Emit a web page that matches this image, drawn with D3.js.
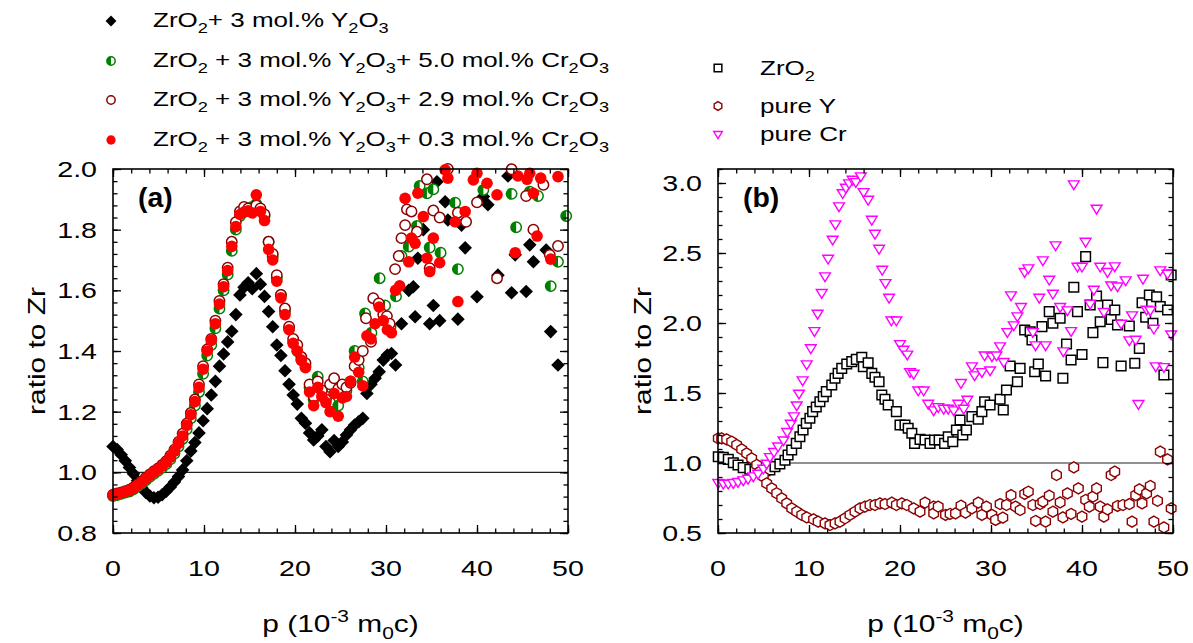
<!DOCTYPE html>
<html><head><meta charset="utf-8">
<script src="https://cdn.jsdelivr.net/npm/d3@7"></script>
<style>
body{margin:0;background:#fff}
text{font-family:"Liberation Sans",Arial,sans-serif;white-space:pre;fill:#000}
</style>
</head><body>
<svg id="chart" width="1193" height="643"></svg>
<script>
// ---------------- DATA ----------------
const xTickLabels = [0, 10, 20, 30, 40, 50];
const yTicksA = [0.8, 1.0, 1.2, 1.4, 1.6, 1.8, 2.0];
const yTicksB = [0.5, 1.0, 1.5, 2.0, 2.5, 3.0];

// Panel (a): [p, ratio]
const zrY = [[0,1.085],[0.45,1.075],[0.9,1.058],[1.35,1.038],[1.8,1.016],[2.25,0.995],[2.7,0.972],[3.15,0.95],[3.6,0.934],[4.05,0.922],[4.5,0.916],[4.95,0.918],[5.4,0.926],[5.85,0.938],[6.3,0.952],[6.75,0.968],[7.2,0.986],[7.65,1.008],[8.1,1.038],[8.55,1.07],[9.0,1.098],[9.45,1.13],[9.9,1.17],[10.35,1.21],[10.8,1.255],[11.25,1.3],[11.7,1.35],[12.15,1.39],[12.6,1.43],[13.05,1.465],[13.5,1.52],[13.95,1.585],[14.4,1.61],[14.85,1.625],[15.3,1.605],[15.75,1.655],[16.2,1.62],[16.65,1.58],[17.1,1.53],[17.55,1.48],[18.0,1.42],[18.45,1.385],[18.9,1.335],[19.35,1.29],[19.8,1.255],[20.25,1.225],[20.7,1.178],[21.15,1.162],[21.6,1.13],[22.05,1.107],[22.5,1.12],[22.95,1.14],[23.4,1.085],[23.85,1.068],[24.3,1.105],[24.75,1.085],[25.2,1.1],[25.65,1.123],[26.1,1.14],[26.55,1.156],[27.0,1.167],[27.45,1.178],[27.9,1.26],[28.35,1.29],[28.8,1.31],[29.25,1.332],[29.7,1.37],[30.15,1.387],[30.6,1.392],[31.05,1.354],[31.7,1.49],[32.5,1.6],[33.0,1.612],[33.2,1.513],[33.5,1.706],[34.1,1.8],[34.8,1.49],[35.2,1.55],[35.6,1.958],[35.9,1.5],[36.5,1.892],[36.8,1.832],[37.9,1.505],[38.3,1.815],[38.7,1.74],[40.0,1.579],[40.7,1.909],[41.2,1.882],[42.3,1.65],[43.4,1.977],[43.8,1.592],[44.2,1.717],[45.4,1.596],[45.8,1.75],[46.2,1.694],[47.6,1.733],[48.1,1.464],[48.9,1.354]];

const cr50 = [[0,0.922],[0.45,0.925],[0.9,0.929],[1.35,0.933],[1.8,0.937],[2.25,0.944],[2.7,0.953],[3.15,0.963],[3.6,0.974],[4.05,0.985],[4.5,0.995],[4.95,1.005],[5.4,1.015],[5.85,1.027],[6.3,1.043],[6.75,1.062],[7.2,1.085],[7.65,1.11],[8.1,1.142],[8.55,1.178],[9.0,1.22],[9.45,1.265],[9.9,1.325],[10.35,1.385],[10.8,1.42],[11.25,1.475],[11.7,1.54],[12.15,1.6],[12.6,1.652],[13.05,1.73],[13.5,1.8],[13.95,1.845],[14.4,1.86],[14.85,1.87],[15.3,1.875],[15.75,1.885],[16.2,1.865],[16.65,1.845],[17.1,1.76],[17.55,1.71],[18.0,1.64],[18.45,1.585],[18.9,1.53],[19.35,1.475],[19.8,1.43],[20.25,1.4],[20.7,1.37],[21.15,1.35],[21.6,1.28],[22.05,1.24],[22.5,1.315],[22.95,1.27],[23.4,1.25],[23.85,1.23],[24.3,1.29],[24.75,1.22],[25.2,1.26],[25.65,1.27],[26.1,1.3],[26.55,1.4],[27.0,1.345],[27.45,1.3],[27.7,1.524],[28.4,1.46],[29.3,1.64],[29.9,1.55],[30.5,1.48],[31.1,1.58],[31.7,1.713],[32.5,1.744],[33.4,1.812],[33.7,1.944],[34.5,1.92],[34.8,1.741],[35.2,1.933],[36.0,1.724],[37.6,1.889],[37.9,1.67],[40.7,1.931],[43.8,1.918],[44.3,1.808],[45.8,1.925],[46.7,1.911],[48.1,1.614],[48.9,1.694],[49.8,1.845]];

const cr29 = [[0,0.926],[0.45,0.93],[0.9,0.934],[1.35,0.938],[1.8,0.943],[2.25,0.95],[2.7,0.96],[3.15,0.97],[3.6,0.982],[4.05,0.993],[4.5,1.004],[4.95,1.013],[5.4,1.024],[5.85,1.037],[6.3,1.055],[6.75,1.075],[7.2,1.1],[7.65,1.127],[8.1,1.16],[8.55,1.196],[9.0,1.24],[9.45,1.29],[9.9,1.35],[10.35,1.405],[10.8,1.44],[11.25,1.5],[11.7,1.565],[12.15,1.62],[12.6,1.675],[13.05,1.76],[13.5,1.825],[13.95,1.86],[14.4,1.875],[14.85,1.87],[15.3,1.86],[15.75,1.88],[16.2,1.87],[16.65,1.85],[17.1,1.76],[17.55,1.72],[18.0,1.65],[18.45,1.585],[18.9,1.54],[19.35,1.48],[19.8,1.44],[20.25,1.42],[20.7,1.38],[21.15,1.36],[21.6,1.29],[22.05,1.25],[22.5,1.3],[22.95,1.27],[23.4,1.24],[23.85,1.29],[24.3,1.31],[24.75,1.275],[25.2,1.29],[25.65,1.28],[26.1,1.295],[26.55,1.35],[27.0,1.37],[27.45,1.4],[27.8,1.508],[28.35,1.43],[28.6,1.574],[29.2,1.557],[29.7,1.52],[30.1,1.515],[30.4,1.49],[31.0,1.67],[31.4,1.713],[31.7,1.772],[32.1,1.815],[32.3,1.867],[32.8,1.86],[33.4,1.793],[34.5,1.966],[34.8,1.673],[35.2,1.863],[35.9,1.84],[36.8,2.0],[37.9,1.856],[38.8,1.826],[40.0,1.89],[42.2,1.64],[43.8,1.999],[45.4,1.911],[46.2,1.8],[47.3,1.948],[48.0,1.717],[48.9,1.746]];

const cr03 = [[0,0.925],[0.45,0.928],[0.9,0.932],[1.35,0.936],[1.8,0.94],[2.25,0.947],[2.7,0.957],[3.15,0.967],[3.6,0.978],[4.05,0.99],[4.5,1.0],[4.95,1.01],[5.4,1.02],[5.85,1.033],[6.3,1.05],[6.75,1.07],[7.2,1.095],[7.65,1.12],[8.1,1.155],[8.55,1.19],[9.0,1.233],[9.45,1.28],[9.9,1.34],[10.35,1.4],[10.8,1.435],[11.25,1.49],[11.7,1.555],[12.15,1.612],[12.6,1.665],[13.05,1.745],[13.5,1.81],[13.95,1.85],[14.4,1.858],[14.85,1.862],[15.3,1.855],[15.75,1.915],[16.2,1.86],[16.65,1.83],[17.1,1.735],[17.55,1.7],[18.0,1.63],[18.45,1.575],[18.9,1.52],[19.35,1.47],[19.8,1.425],[20.25,1.4],[20.7,1.37],[21.15,1.345],[21.6,1.265],[22.05,1.22],[22.5,1.28],[22.95,1.25],[23.4,1.23],[23.85,1.2],[24.3,1.26],[24.75,1.185],[25.2,1.245],[25.65,1.25],[26.1,1.3],[26.55,1.38],[27.0,1.33],[27.45,1.285],[27.9,1.45],[28.35,1.44],[28.8,1.49],[29.25,1.545],[29.7,1.5],[30.15,1.47],[30.6,1.46],[31.05,1.6],[31.5,1.615],[32.1,1.903],[32.5,1.694],[32.8,1.772],[33.2,1.755],[33.5,1.92],[34.1,1.843],[34.5,1.706],[34.8,1.662],[35.2,1.772],[35.9,1.691],[36.5,1.997],[36.8,1.97],[37.6,1.826],[37.9,1.563],[38.7,1.86],[39.6,1.964],[40.0,1.986],[41.1,1.953],[42.2,1.915],[44.2,1.724],[44.5,1.977],[45.5,1.966],[45.8,1.986],[46.2,1.92],[46.6,1.779],[47.0,1.97],[48.1,1.703],[48.9,1.975]];

// Panel (b)
const zrO2 = [[0.03,1.045],[0.58,1.04],[1.13,1.026],[1.68,1.002],[2.2,0.986],[2.77,0.967],[3.5,0.955],[4.07,0.945],[4.6,0.938],[5.16,0.945],[5.7,0.95],[6.26,0.974],[6.8,0.993],[7.36,1.02],[7.7,1.057],[8.1,1.093],[8.6,1.14],[9.0,1.188],[9.35,1.236],[9.7,1.283],[10.1,1.32],[10.4,1.367],[10.8,1.4],[11.2,1.438],[11.57,1.474],[11.9,1.51],[12.5,1.557],[12.86,1.605],[13.2,1.64],[13.6,1.676],[14.15,1.707],[14.7,1.724],[15.2,1.74],[15.8,1.755],[15.97,1.688],[16.5,1.716],[16.9,1.64],[17.25,1.612],[17.7,1.58],[18.0,1.486],[18.35,1.455],[18.7,1.414],[19.6,1.367],[20.0,1.271],[20.55,1.271],[20.9,1.248],[21.3,1.212],[21.6,1.14],[22.2,1.169],[22.75,1.164],[23.3,1.14],[23.8,1.164],[24.3,1.164],[24.9,1.14],[25.3,1.188],[25.8,1.152],[26.2,1.236],[26.6,1.307],[26.9,1.2],[27.3,1.236],[27.9,1.331],[28.6,1.312],[29.0,1.367],[29.3,1.438],[29.9,1.414],[31.0,1.455],[31.35,1.379],[31.7,1.521],[32.1,1.693],[32.9,1.58],[33.2,1.676],[33.7,1.95],[34.3,1.938],[34.5,1.879],[34.8,1.652],[35.2,1.707],[35.6,1.974],[36.0,1.621],[36.4,2.081],[36.8,1.998],[37.6,2.034],[37.9,1.605],[38.3,1.85],[38.8,1.736],[39.1,2.255],[39.5,2.081],[40.0,1.775],[40.4,2.474],[40.9,2.129],[41.2,1.931],[41.6,2.193],[42.0,2.009],[42.3,1.717],[42.8,2.129],[43.2,2.026],[43.6,2.093],[43.9,1.986],[44.3,1.693],[45.2,1.979],[45.8,1.712],[46.3,1.819],[46.6,2.145],[47.0,2.041],[47.4,2.2],[47.8,1.998],[48.2,2.188],[48.6,2.117],[49.0,1.629],[49.4,2.093],[49.8,2.343]];

const pureY = [[0.03,1.176],[0.4,1.176],[0.95,1.169],[1.5,1.152],[2.05,1.129],[2.6,1.098],[3.15,1.069],[3.7,1.033],[4.25,0.986],[4.6,0.938],[4.98,0.902],[5.35,0.855],[5.9,0.819],[6.45,0.784],[7.0,0.748],[7.55,0.712],[8.1,0.676],[8.65,0.652],[9.2,0.629],[9.75,0.612],[10.5,0.598],[11.0,0.581],[11.76,0.569],[12.3,0.557],[12.86,0.569],[13.4,0.581],[13.96,0.605],[14.5,0.629],[15.05,0.652],[15.6,0.676],[16.15,0.688],[16.7,0.7],[17.25,0.7],[17.8,0.712],[18.35,0.707],[19.1,0.717],[19.6,0.7],[20.2,0.712],[20.75,0.7],[21.5,0.676],[22.2,0.652],[22.75,0.717],[23.7,0.688],[23.7,0.64],[24.2,0.688],[25.0,0.629],[25.5,0.636],[26.1,0.64],[26.7,0.695],[27.2,0.645],[27.9,0.676],[28.6,0.717],[29.0,0.629],[29.5,0.688],[30.1,0.629],[30.5,0.593],[31.0,0.707],[31.3,0.61],[31.7,0.7],[32.2,0.771],[32.7,0.688],[33.2,0.664],[33.7,0.779],[34.1,0.795],[34.6,0.7],[34.9,0.586],[35.4,0.707],[35.7,0.724],[36.0,0.581],[36.4,0.767],[36.8,0.652],[37.2,0.914],[37.6,0.719],[37.9,0.612],[38.4,0.783],[38.8,0.636],[39.1,0.969],[39.6,0.819],[40.0,0.617],[40.4,0.736],[40.8,0.688],[41.2,0.76],[41.6,0.819],[42.0,0.688],[42.4,0.617],[42.8,0.669],[43.2,0.914],[43.6,0.938],[43.9,0.693],[44.5,0.7],[45.2,0.707],[45.5,0.581],[45.9,0.771],[46.3,0.812],[46.6,0.712],[47.1,0.783],[47.5,0.836],[47.9,0.581],[48.3,0.73],[48.6,1.081],[49.0,0.54],[49.4,1.026],[49.8,0.676]];

const pureCr = [[0.03,0.86],[0.58,0.855],[1.13,0.855],[1.68,0.86],[2.2,0.867],[2.77,0.879],[3.3,0.89],[3.88,0.907],[4.4,0.926],[4.98,0.962],[5.35,0.998],[5.7,1.045],[6.15,1.081],[6.6,1.121],[7.2,1.164],[7.6,1.224],[8.0,1.283],[8.35,1.336],[8.65,1.414],[8.9,1.498],[9.3,1.593],[9.75,1.707],[10.2,1.822],[10.6,1.945],[10.95,2.069],[11.4,2.217],[11.76,2.336],[12.1,2.462],[12.6,2.598],[12.9,2.707],[13.3,2.836],[13.7,2.93],[14.05,2.969],[14.4,3.0],[14.8,3.026],[15.15,3.009],[15.7,3.05],[16.0,2.938],[16.5,2.883],[16.9,2.74],[17.25,2.64],[17.7,2.533],[18.05,2.383],[18.4,2.288],[18.8,2.183],[19.05,2.021],[19.6,2.021],[20.0,1.852],[20.4,1.812],[20.8,1.777],[21.1,1.652],[21.5,1.64],[22.0,1.521],[22.6,1.521],[23.1,1.426],[23.7,1.379],[24.2,1.402],[24.8,1.39],[25.3,1.39],[25.9,1.379],[26.4,1.426],[26.7,1.574],[27.0,1.39],[27.4,1.455],[27.9,1.693],[28.2,1.629],[29.0,1.652],[29.3,1.771],[29.9,1.664],[30.1,1.764],[30.6,1.771],[31.0,1.836],[31.4,1.724],[31.8,1.938],[32.2,2.2],[32.5,1.986],[32.9,2.05],[33.3,2.117],[33.7,2.367],[34.1,2.393],[34.6,1.938],[34.9,1.843],[35.3,2.183],[35.7,2.45],[36.0,1.843],[36.4,2.312],[36.8,2.212],[37.1,2.557],[37.6,2.117],[37.95,1.8],[38.4,2.093],[38.8,1.945],[39.1,2.993],[39.5,2.405],[40.0,2.405],[40.4,2.583],[40.9,2.14],[41.3,2.24],[41.6,2.819],[42.0,2.405],[42.4,2.081],[42.8,2.367],[43.2,2.271],[43.6,2.407],[43.9,2.264],[44.3,1.998],[44.8,2.307],[45.2,1.879],[45.5,2.057],[45.9,1.883],[46.2,1.424],[46.7,2.319],[47.1,2.098],[47.5,2.093],[47.9,1.962],[48.1,1.693],[48.6,2.379],[49.0,1.688],[49.4,2.355],[49.8,1.921]];

// ---------------- DRAWING ----------------
const svg = d3.select('#chart');
const SX = 1.3;

function rich(parent, x, y, segs, o) {
  o = Object.assign({size: 20, anchor: 'start', sx: SX, rotate: 0, weight: 'normal'}, o || {});
  const g = parent.append('g')
    .attr('transform', `translate(${x},${y})` + (o.rotate ? ` rotate(${o.rotate})` : '') + ` scale(${o.sx},1)`);
  const t = g.append('text').attr('font-size', o.size).attr('text-anchor', o.anchor).attr('font-weight', o.weight);
  let cur = 0;
  segs.forEach(s => {
    const [str, mode] = typeof s === 'string' ? [s, 'n'] : s;
    const target = mode === 'sub' ? o.size * 0.3 : (mode === 'sup' ? -o.size * 0.42 : 0);
    const ts = t.append('tspan').text(str).attr('dy', target - cur);
    if (mode !== 'n') ts.attr('font-size', o.size * 0.7);
    cur = target;
  });
  return g;
}

// marker shapes
const shapes = {
  diamond: 'M0,-6.8L6.8,0L0,6.8L-6.8,0Z',
  square: 'M-4.8,-4.8H4.8V4.8H-4.8Z',
  hexagon: (() => { const r = 5.5; return d3.range(6).map(i => { const a = (-90 + 60 * i) * Math.PI / 180; return (i ? 'L' : 'M') + (r * Math.cos(a)).toFixed(2) + ',' + (r * Math.sin(a)).toFixed(2); }).join('') + 'Z'; })(),
  triangle: 'M-5.4,-3.1L5.4,-3.1L0,5.7Z'
};

function drawMarker(g, type, x, y, scale) {
  const k = scale || 1;
  const tr = `translate(${x},${y}) scale(${k})`;
  if (type === 'diamond') {
    g.append('path').attr('d', shapes.diamond).attr('transform', tr).attr('fill', '#000');
  } else if (type === 'red') {
    g.append('circle').attr('cx', x).attr('cy', y).attr('r', 5.8 * k).attr('fill', '#ff0000');
  } else if (type === 'open') {
    g.append('circle').attr('cx', x).attr('cy', y).attr('r', 5.2 * k).attr('fill', '#fff').attr('stroke', '#8b0000').attr('stroke-width', 1.5);
  } else if (type === 'half') {
    const r = 5.2 * k;
    g.append('circle').attr('cx', x).attr('cy', y).attr('r', r).attr('fill', '#fff').attr('stroke', '#008000').attr('stroke-width', 1.5);
    g.append('path').attr('d', `M${x},${y - r}A${r},${r} 0 0 0 ${x},${y + r}Z`).attr('fill', '#008000');
  } else if (type === 'square') {
    g.append('path').attr('d', shapes.square).attr('transform', tr).attr('fill', '#fff').attr('stroke', '#000').attr('stroke-width', 1.5 / k);
  } else if (type === 'hexagon') {
    g.append('path').attr('d', shapes.hexagon).attr('transform', tr).attr('fill', '#fff').attr('stroke', '#8b0000').attr('stroke-width', 1.4 / k);
  } else if (type === 'triangle') {
    g.append('path').attr('d', shapes.triangle).attr('transform', tr).attr('fill', '#fff').attr('stroke', '#ff00ff').attr('stroke-width', 1.4 / k);
  }
}

function panel(cfg) {
  const {x, y, yMajor, yMinorStep, fmt, series, label, ylabX} = cfg;
  const [x0, x1] = x.range(), [y0, y1] = y.range();
  const g = svg.append('g');
  // reference line at ratio = 1
  g.append('line').attr('x1', x0).attr('x2', x1).attr('y1', y(1)).attr('y2', y(1)).attr('stroke', '#222').attr('stroke-width', 1.1);
  // markers
  const clipId = 'clip' + label;
  svg.append('clipPath').attr('id', clipId).append('rect').attr('x', x0 - 8).attr('y', y1 - 8).attr('width', x1 - x0 + 16).attr('height', y0 - y1 + 16);
  const mg = g.append('g').attr('clip-path', `url(#${clipId})`);
  series.forEach(s => s.data.forEach(d => drawMarker(mg, s.type, x(d[0]), y(d[1]))));

  // ticks via axes (inward)
  const xMinor = d3.range(0, 50.01, 2);
  const yMin = y.domain()[0], yMax = y.domain()[1];
  const yMinor = d3.range(yMin, yMax + 1e-6, yMinorStep);
  const axes = g.append('g');
  const mk = (axisFn, scale, vals, len, tx) => {
    const a = axes.append('g').attr('transform', tx).call(axisFn(scale).tickValues(vals).tickSize(len).tickSizeOuter(0).tickFormat(''));
    a.select('.domain').remove();
    a.selectAll('line').attr('stroke', '#000').attr('stroke-width', 1.3);
  };
  mk(d3.axisBottom, x, xMinor, -4.5, `translate(0,${y0})`);
  mk(d3.axisBottom, x, xTickLabels, -8, `translate(0,${y0})`);
  mk(d3.axisTop, x, xMinor, -4.5, `translate(0,${y1})`);
  mk(d3.axisTop, x, xTickLabels, -8, `translate(0,${y1})`);
  mk(d3.axisLeft, y, yMinor, -4.5, `translate(${x0},0)`);
  mk(d3.axisLeft, y, yMajor, -8, `translate(${x0},0)`);
  mk(d3.axisRight, y, yMinor, -4.5, `translate(${x1},0)`);
  mk(d3.axisRight, y, yMajor, -8, `translate(${x1},0)`);
  // frame
  g.append('rect').attr('x', x0).attr('y', y1).attr('width', x1 - x0).attr('height', y0 - y1).attr('fill', 'none').attr('stroke', '#000').attr('stroke-width', 1.6);

  // tick labels
  xTickLabels.forEach(v => rich(g, x(v), 576, [String(v)], {size: 22, anchor: 'middle'}));
  yMajor.forEach(v => rich(g, x0 - 16, y(v) + 8, [fmt(v)], {size: 22, anchor: 'end'}));
  // axis titles
  rich(g, (x0 + x1) / 2, 632, ['p (10', ['-3', 'sup'], ' m', ['0', 'sub'], 'c)'], {size: 23, anchor: 'middle'});
  rich(g, ylabX, (y0 + y1) / 2, ['ratio to Zr'], {size: 23, anchor: 'middle', rotate: -90});
  // panel label
  rich(g, x0 + 25, 207, ['(' + label + ')'], {size: 27, weight: 'bold', sx: 1.05});
}

const xA = d3.scaleLinear().domain([0, 50]).range([113, 568]);
const yA = d3.scaleLinear().domain([0.8, 2.0]).range([533, 169]);
const xB = d3.scaleLinear().domain([0, 50]).range([718, 1173]);
const yB = d3.scaleLinear().domain([0.5, 3.1]).range([533, 169]);
const f1 = d3.format('.1f');

panel({x: xA, y: yA, yMajor: yTicksA, yMinorStep: 0.04, fmt: f1, label: 'a', ylabX: 45,
  series: [{type: 'diamond', data: zrY}, {type: 'half', data: cr50}, {type: 'open', data: cr29}, {type: 'red', data: cr03}]});
panel({x: xB, y: yB, yMajor: yTicksB, yMinorStep: 0.1, fmt: f1, label: 'b', ylabX: 651,
  series: [{type: 'square', data: zrO2}, {type: 'hexagon', data: pureY}, {type: 'triangle', data: pureCr}]});

// legends
const legA = [
  {type: 'diamond', y: 27, segs: ['ZrO', ['2', 'sub'], '+ 3 mol.% Y', ['2', 'sub'], 'O', ['3', 'sub']]},
  {type: 'half', y: 67, segs: ['ZrO', ['2', 'sub'], ' + 3 mol.% Y', ['2', 'sub'], 'O', ['3', 'sub'], '+ 5.0 mol.% Cr', ['2', 'sub'], 'O', ['3', 'sub']]},
  {type: 'open', y: 106, segs: ['ZrO', ['2', 'sub'], ' + 3 mol.% Y', ['2', 'sub'], 'O', ['3', 'sub'], '+ 2.9 mol.% Cr', ['2', 'sub'], 'O', ['3', 'sub']]},
  {type: 'red', y: 146, segs: ['ZrO', ['2', 'sub'], ' + 3 mol.% Y', ['2', 'sub'], 'O', ['3', 'sub'], '+ 0.3 mol.% Cr', ['2', 'sub'], 'O', ['3', 'sub']]}
];
const legB = [
  {type: 'square', y: 75, segs: ['ZrO', ['2', 'sub']]},
  {type: 'hexagon', y: 113, segs: ['pure Y']},
  {type: 'triangle', y: 141, segs: ['pure Cr']}
];
const lg = svg.append('g');
legA.forEach(r => { drawMarker(lg, r.type, 111, r.y - 6, 0.8); rich(lg, 153, r.y, r.segs, {size: 20}); });
legB.forEach(r => { drawMarker(lg, r.type, 718, r.y - 7, 0.8); rich(lg, 760, r.y, r.segs, {size: 20}); });
</script>
</body></html>
